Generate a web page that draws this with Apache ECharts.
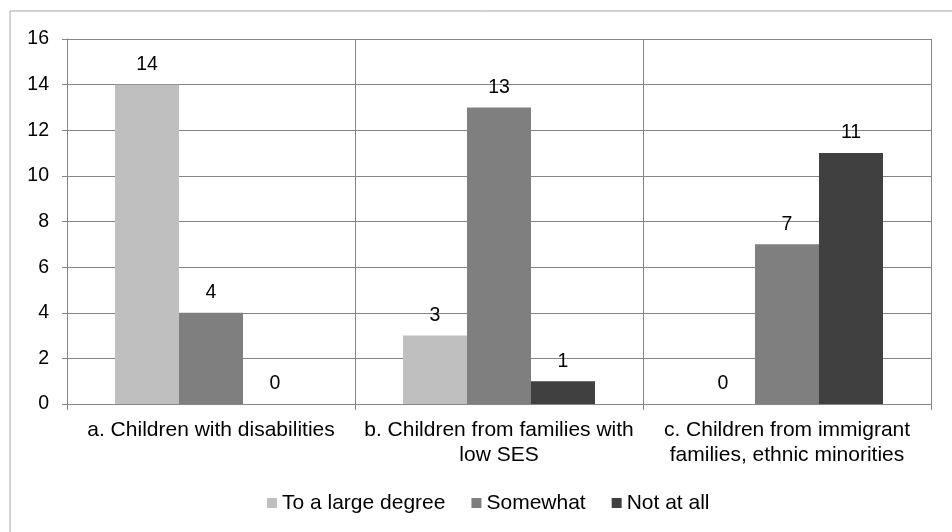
<!DOCTYPE html>
<html>
<head>
<meta charset="utf-8">
<script src="https://cdn.jsdelivr.net/npm/echarts@6/dist/echarts.min.js"></script>
<style>
html,body{margin:0;padding:0;background:#fff;}
#chart{width:952px;height:532px;}
</style>
</head>
<body>
<div id="chart"></div>
<script>
const categories = [
  "a. Children with disabilities",
  "b. Children from families with\nlow SES",
  "c. Children from immigrant\nfamilies, ethnic minorities"
];
const seriesNames = ["To a large degree", "Somewhat", "Not at all"];
const toALargeDegree = [14, 3, 0];
const somewhat = [4, 13, 7];
const notAtAll = [0, 1, 11];
const yTicks = [0, 2, 4, 6, 8, 10, 12, 14, 16];

const FONT = "'Liberation Sans', Arial, sans-serif";
const AXIS = "#868686";
const colors = ["#bfbfbf", "#7f7f7f", "#404040"];
const values = [toALargeDegree, somewhat, notAtAll];

const chart = echarts.init(document.getElementById('chart'), null, {renderer: 'canvas'});
chart.setOption({
  animation: false,
  backgroundColor: '#fff',
  textStyle: {fontFamily: FONT},
  graphic: [{
    type: 'rect', left: 7.5, top: 8.5, silent: true,
    shape: {width: 970, height: 560},
    style: {fill: 'none', stroke: '#a6a6a6', lineWidth: 1}
  }],
  grid: {left: 67, right: 21, top: 39, bottom: 128},
  legend: {
    data: seriesNames,
    left: 262, top: 487,
    icon: 'rect', itemWidth: 10, itemHeight: 10, itemGap: 26,
    textStyle: {fontSize: 21, lineHeight: 22, color: '#000', fontFamily: FONT}
  },
  xAxis: {
    type: 'category',
    data: categories,
    boundaryGap: true,
    axisLine: {show: true, lineStyle: {color: AXIS}},
    axisTick: {show: true, length: 6, alignWithLabel: false, lineStyle: {color: AXIS}},
    splitLine: {show: true, lineStyle: {color: AXIS}},
    axisLabel: {fontSize: 21, color: '#000', lineHeight: 25, margin: 14, interval: 0, fontFamily: FONT}
  },
  yAxis: {
    type: 'value',
    min: yTicks[0], max: yTicks[yTicks.length - 1], interval: 2,
    axisLine: {show: true, lineStyle: {color: AXIS}},
    axisTick: {show: true, length: 5, lineStyle: {color: AXIS}},
    splitLine: {show: true, lineStyle: {color: AXIS}},
    axisLabel: {fontSize: 19.5, color: '#000', margin: 18, fontFamily: FONT}
  },
  series: seriesNames.map((name, i) => ({
    name: name,
    type: 'bar',
    data: values[i],
    barWidth: 64,
    barGap: '0%',
    itemStyle: {color: colors[i]},
    label: {show: true, position: 'top', distance: 10, fontSize: 19.5, color: '#000', fontFamily: FONT}
  }))
});
</script>
</body>
</html>
